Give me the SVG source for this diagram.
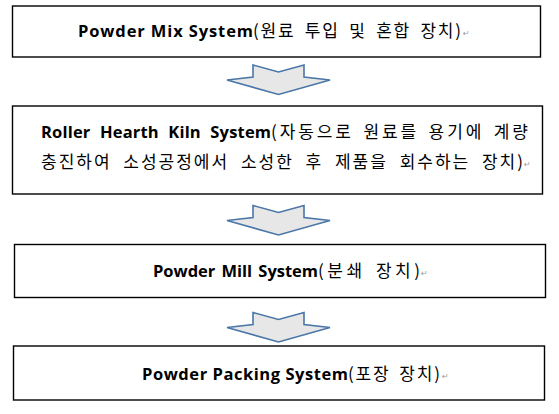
<svg xmlns="http://www.w3.org/2000/svg" width="559" height="414" viewBox="0 0 559 414">
<style>
.box{fill:#ffffff;stroke:#000000;stroke-width:1.4}
.arrow{fill:#e7e7e7;stroke:#4a76a8;stroke-width:1.6;stroke-linejoin:miter}
.t{font-family:"Noto Sans CJK KR","Noto Sans",sans-serif;font-size:17px;fill:#000000}
.en{font-family:"Open Sans","Noto Sans","Noto Sans CJK KR",sans-serif;font-weight:bold;font-size:16.5px}
.ko{font-family:"Noto Sans CJK KR",sans-serif;font-weight:normal;font-size:17px}
.pm{font-family:"DejaVu Sans",sans-serif;font-size:8px;fill:#9a9a9a}
</style>
<defs>
<path id="arr" class="arrow" d="M0,0 L25.5,7 L51,0 L51,12 L77,15 L25.5,29.5 L-26,15 L0,12 Z"/>
</defs>
<rect width="559" height="414" fill="#ffffff"/>
<g id="connectors">
<use href="#arr" x="253" y="65"/>
<use href="#arr" x="253" y="205.5"/>
<use href="#arr" x="253" y="312.5"/>
</g>
<g id="node1">
<rect class="box" x="12.5" y="6" width="528" height="51"/>
<text class="t" y="37"><tspan class="en" x="78" textLength="175" lengthAdjust="spacing">Powder Mix System</tspan><tspan class="ko" x="253" word-spacing="4" textLength="208" lengthAdjust="spacing">(원료 투입 및 혼합 장치)</tspan><tspan class="pm" x="463" dy="-1">↵</tspan></text>
</g>
<g id="node2">
<rect class="box" x="12.5" y="106" width="530" height="88"/>
<text class="t" y="138"><tspan class="en" x="41" word-spacing="5" textLength="230" lengthAdjust="spacing">Roller Hearth Kiln System</tspan><tspan class="ko" x="271" word-spacing="3" textLength="257" lengthAdjust="spacing">(자동으로 원료를 용기에 계량</tspan></text>
<text class="t" y="168"><tspan class="ko" x="41" word-spacing="6" textLength="482" lengthAdjust="spacing">충진하여 소성공정에서 소성한 후 제품을 회수하는 장치)</tspan><tspan class="pm" x="524" dy="-1">↵</tspan></text>
</g>
<g id="node3">
<rect class="box" x="14.5" y="244.5" width="531" height="53"/>
<text class="t" y="277"><tspan class="en" x="153" word-spacing="2" textLength="165" lengthAdjust="spacing">Powder Mill System</tspan><tspan class="ko" x="318" word-spacing="3" textLength="102" lengthAdjust="spacing">(분쇄 장치)</tspan><tspan class="pm" x="421" dy="-1">↵</tspan></text>
</g>
<g id="node4">
<rect class="box" x="13.5" y="346" width="531" height="54"/>
<text class="t" y="380"><tspan class="en" x="142" textLength="206" lengthAdjust="spacing">Powder Packing System</tspan><tspan class="ko" x="348" word-spacing="3" textLength="92" lengthAdjust="spacing">(포장 장치)</tspan><tspan class="pm" x="442" dy="-1">↵</tspan></text>
</g>
</svg>
